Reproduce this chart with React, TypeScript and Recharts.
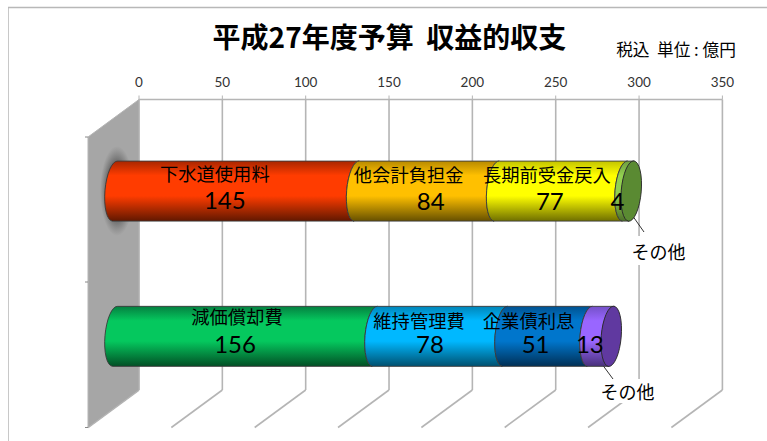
import React from 'react';
import { BarChart, Bar, XAxis, YAxis, CartesianGrid } from 'recharts';

const categories = ['収入', '支出'];
const totals = [310, 298];
const segment1 = [145, 156];
const segment2 = [84, 78];
const segment3 = [77, 51];
const segment4 = [4, 13];
const names1 = ['下水道使用料', '減価償却費'];
const names2 = ['他会計負担金', '維持管理費'];
const names3 = ['長期前受金戻入', '企業債利息'];
const names4 = ['その他', 'その他'];
const xTicks = [0, 50, 100, 150, 200, 250, 300, 350];

const rows = categories.map((name, i) => ({
  name,
  seg1: segment1[i],
  seg2: segment2[i],
  seg3: segment3[i],
  seg4: segment4[i],
}));

const JP = '"Noto Sans CJK JP", sans-serif';
const NUM = 'Lato, sans-serif';

// plot box = back wall of the pseudo 3D chart
const LEFT = 139;
const TOP = 99.5;
const PLOT_W = 583.4;
const PLOT_H = 290.5;
const AXIS_H = 30;
// bars stand in front of the wall
const DEPTH_X = -24;
const DEPTH_Y = 19;
const FLOOR_X = -51;
const FLOOR_Y = 37.5;
const RX = 10;
const RY = 30;
const TILT = 2.6;

// [top edge, base, bottom shade], one per gradient
const COLORS: Record<string, string[]> = {
  c0: ['#a82600', '#ff3c00', '#611800'],
  c1: ['#b88a00', '#ffc000', '#665000'],
  c2: ['#c4c400', '#ffff00', '#6f6f00'],
  c3: ['#6f9e3e', '#92d050', '#4d7028'],
  c4: ['#048040', '#05c85e', '#024f25'],
  c5: ['#0085b8', '#00b8ff', '#00506f'],
  c6: ['#005290', '#0076cc', '#002f55'],
  c7: ['#7450c8', '#9966ff', '#48307a'],
};
const CAPS = ['#5a8a32', '#6039a0'];

// text offsets from the segment middle / bar top, per row and segment: name dx, name dy, value dx, value dy
const labelPos: number[][][] = [
  [[-21, 12, -11, 38], [-18, 13, 4, 39], [-14, 13, -11, 39], [0, 0, -11, 39]],
  [[-8, 10, -10, 37], [-21, 14, -10, 37], [-19, 14, -12, 37], [0, 0, -11, 37]],
];

function Segment(props: any) {
  const { x, y, width, height, index, seg, names, last } = props;
  const x0 = x + DEPTH_X;
  const x1 = x0 + width;
  const top = y + DEPTH_Y;
  const bottom = top + height;
  const mid = (x0 + x1) / 2;
  const d =
    `M${x0 + TILT} ${top} A${RX} ${RY} 5 0 0 ${x0 - TILT} ${bottom}` +
    ` L${x1 - TILT} ${bottom} A${RX} ${RY} 5 0 1 ${x1 + TILT} ${top} Z`;
  const [nameDx, nameDy, valueDx, valueDy] = labelPos[index][seg];
  const row = rows[index] as any;
  return (
    <g>
      <path d={d} fill={`url(#c${index === 0 ? seg : seg + 4})`} stroke="#3a3a3a" strokeWidth={0.9} />
      {last && (
        <ellipse
          cx={x1 - 0.5}
          cy={top + height / 2}
          rx={RX}
          ry={RY + 0.2}
          transform={`rotate(5 ${x1} ${top + height / 2})`}
          fill={CAPS[index]}
          stroke="#2a2a2a"
          strokeWidth={0.9}
        />
      )}
      {!last && (
        <text x={mid + nameDx} y={top + nameDy} textAnchor="middle" dominantBaseline="central" fontFamily={JP} fontSize={18.3} fill="#000">
          {names[index]}
        </text>
      )}
      <text x={mid + valueDx} y={top + valueDy} textAnchor="middle" dominantBaseline="central" fontFamily={NUM} fontSize={24} fill="#000">
        {row[`seg${seg + 1}`]}
      </text>
    </g>
  );
}

function GridLine(props: any) {
  const { x1, y1, y2 } = props;
  return (
    <g stroke="#b5b5b5" strokeWidth={1.6} fill="none">
      <line x1={x1} y1={y1} x2={x1} y2={y2} />
      <line x1={x1} y1={y2} x2={x1 + FLOOR_X} y2={y2 + FLOOR_Y} />
      <line x1={x1} y1={y1} x2={x1} y2={y1 - 4} strokeWidth={1} />
    </g>
  );
}

function CategoryTick(props: any) {
  const { y, payload } = props;
  const i = categories.indexOf(payload.value);
  return (
    <g fontFamily={JP} fill="#000" textAnchor="middle">
      {i === 0 && <rect x={60} y={163} width={31} height={59} fill="#fff" />}
      <text x={i === 0 ? 56.5 : 55.5} y={y + (i === 0 ? 8 : 6)} dominantBaseline="central" fontSize={16}>{payload.value}</text>
      <text x={i === 0 ? 54 : 53} y={y + (i === 0 ? 40 : 30)} dominantBaseline="central" fontFamily={NUM} fontSize={24}>
        {totals[i]}
      </text>
    </g>
  );
}

function Gradients() {
  return (
    <defs>
      {Object.keys(COLORS).map(id => (
        <linearGradient key={id} id={id} x1="0" y1="0" x2="0" y2="1">
          <stop offset="0" stopColor={COLORS[id][0]} />
          <stop offset="0.24" stopColor={COLORS[id][1]} />
          <stop offset="0.58" stopColor={COLORS[id][1]} />
          <stop offset="1" stopColor={COLORS[id][2]} />
        </linearGradient>
      ))}
      <radialGradient id="wallShadow">
        <stop offset="0" stopColor="#222" stopOpacity={0.9} />
        <stop offset="0.6" stopColor="#333" stopOpacity={0.6} />
        <stop offset="1" stopColor="#555" stopOpacity={0} />
      </radialGradient>
    </defs>
  );
}

function Wall() {
  const bottom = TOP + PLOT_H;
  const x = LEFT + FLOOR_X;
  return (
    <g>
      <polygon points={`${LEFT},${TOP} ${x},${TOP + FLOOR_Y} ${x},${bottom + FLOOR_Y} ${LEFT},${bottom}`} fill="#a6a6a6" stroke="#b5b5b5" />
      <path d={`M${x - 3} ${TOP + FLOOR_Y}H${x}M${x - 3} ${TOP + FLOOR_Y + 145}H${x}M${x - 3} ${bottom + FLOOR_Y}H${x}`} stroke="#888" />
      <ellipse cx={117} cy={191} rx={17} ry={45} fill="url(#wallShadow)" />
    </g>
  );
}

function Callout({ x, y, x2, y2, bx, by, bw, bh, text }: any) {
  return (
    <g>
      <rect x={bx} y={by} width={bw} height={bh} fill="#fff" />
      <line x1={x} y1={y} x2={x2} y2={y2} stroke="#000" strokeWidth={0.8} />
      <text x={bx + bw / 2} y={by + bh / 2} textAnchor="middle" dominantBaseline="central" fontFamily={JP} fontSize={18} fill="#000">
        {text}
      </text>
    </g>
  );
}

export default function App() {
  return (
    <div style={{ position: 'absolute', left: 0, top: 0, width: 767, height: 441, background: '#fff', overflow: 'hidden' }}>
      <BarChart
        width={767}
        height={441}
        layout="vertical"
        data={rows}
        barCategoryGap={42.6}
        margin={{ top: TOP - AXIS_H, left: LEFT, right: 767 - LEFT - PLOT_W, bottom: 441 - TOP - PLOT_H }}
      >
        <Gradients />
        {/* frame around the chart area */}
        <path d="M8.5 441V7.5H767" fill="none" stroke="#c8c8c8" strokeWidth={1} />
        <path d="M8 7.5H767" fill="none" stroke="#b8b8b8" strokeWidth={1.5} />
        <Wall />
        <CartesianGrid horizontal={false} vertical={(p: any) => <GridLine key={p.key} {...p} />} verticalValues={xTicks} />
        <XAxis
          type="number"
          orientation="top"
          domain={[0, 350]}
          ticks={xTicks}
          interval={0}
          height={AXIS_H}
          stroke="#b5b5b5"
          strokeWidth={1.6}
          tickLine={false}
          tickMargin={7}
          tick={{ fontFamily: NUM, fontSize: 13.5, fill: '#333' }}
        />
        <YAxis type="category" dataKey="name" axisLine={false} tickLine={false} width={0} tick={<CategoryTick />} />
        <Bar dataKey="seg1" stackId="a" isAnimationActive={false} shape={(p: any) => <Segment {...p} seg={0} names={names1} />} />
        <Bar dataKey="seg2" stackId="a" isAnimationActive={false} shape={(p: any) => <Segment {...p} seg={1} names={names2} />} />
        <Bar dataKey="seg3" stackId="a" isAnimationActive={false} shape={(p: any) => <Segment {...p} seg={2} names={names3} />} />
        <Bar dataKey="seg4" stackId="a" isAnimationActive={false} shape={(p: any) => <Segment {...p} seg={3} names={names4} last />} />
        <Callout x={625} y={205} x2={644} y2={232} bx={630} by={236} bw={57} bh={29} text={names4[0]} />
        <Callout x={593} y={352} x2={613} y2={379} bx={598} by={379} bw={59} bh={24} text={names4[1]} />
        <text x={389.5} y={35.5} textAnchor="middle" dominantBaseline="central" fontFamily={JP} fontWeight={700} fontSize={28} fill="#000" xmlSpace="preserve">
          平成27年度予算  収益的収支
        </text>
        <text x={676} y={49} textAnchor="middle" dominantBaseline="central" fontFamily={JP} fontSize={16.7} fill="#000" xmlSpace="preserve">
          税込  単位 : 億円
        </text>
      </BarChart>
    </div>
  );
}
